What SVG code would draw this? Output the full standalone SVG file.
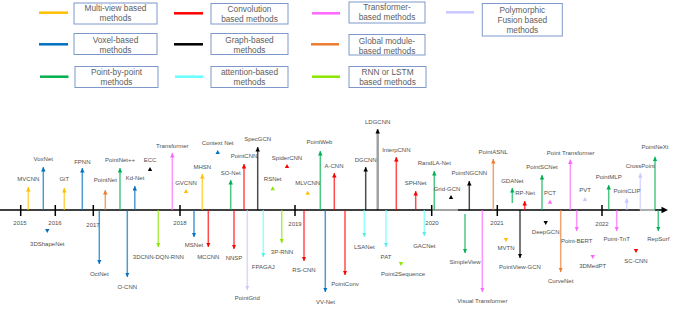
<svg xmlns="http://www.w3.org/2000/svg" width="685" height="309" viewBox="0 0 685 309">
<style>
text{font-family:"Liberation Sans",Arial,sans-serif}
.l{font-size:6px;fill:#4f4f4f;text-anchor:middle}
.lg{font-size:8.3px;fill:#606060;text-anchor:middle}
.box{fill:#fff;stroke:#7F98CB;stroke-width:1}
.sw{stroke-width:2.5;fill:none}
.st{stroke-width:1.5;stroke-opacity:.7;fill:none}
.mv{stroke:#FFC000}.vx{stroke:#0070C0}.pp{stroke:#00B050}.cv{stroke:#FF0000}.gr{stroke:#000}.at{stroke:#66FFFF}.tf{stroke:#FF66FF}.gm{stroke:#ED7D31}.rn{stroke:#8CE600}.pf{stroke:#C9C9FF}
.fmv{fill:#FFC000}.fvx{fill:#0070C0}.fpp{fill:#00B050}.fcv{fill:#FF0000}.fgr{fill:#000}.fat{fill:#66FFFF}.ftf{fill:#FF66FF}.fgm{fill:#ED7D31}.frn{fill:#8CE600}.fpf{fill:#C9C9FF}
.tk{stroke:#000;stroke-width:1.5}
</style>
<defs>
<marker id="a-mv" viewBox="0 0 10 10" refX="10" refY="5" markerWidth="4.5" markerHeight="4.5" markerUnits="userSpaceOnUse" orient="auto"><path d="M0,0L10,5L0,10z" fill="#FFC000"/></marker>
<marker id="a-vx" viewBox="0 0 10 10" refX="10" refY="5" markerWidth="4.5" markerHeight="4.5" markerUnits="userSpaceOnUse" orient="auto"><path d="M0,0L10,5L0,10z" fill="#0070C0"/></marker>
<marker id="a-pp" viewBox="0 0 10 10" refX="10" refY="5" markerWidth="4.5" markerHeight="4.5" markerUnits="userSpaceOnUse" orient="auto"><path d="M0,0L10,5L0,10z" fill="#00B050"/></marker>
<marker id="a-cv" viewBox="0 0 10 10" refX="10" refY="5" markerWidth="4.5" markerHeight="4.5" markerUnits="userSpaceOnUse" orient="auto"><path d="M0,0L10,5L0,10z" fill="#FF0000"/></marker>
<marker id="a-gr" viewBox="0 0 10 10" refX="10" refY="5" markerWidth="4.5" markerHeight="4.5" markerUnits="userSpaceOnUse" orient="auto"><path d="M0,0L10,5L0,10z" fill="#000"/></marker>
<marker id="a-at" viewBox="0 0 10 10" refX="10" refY="5" markerWidth="4.5" markerHeight="4.5" markerUnits="userSpaceOnUse" orient="auto"><path d="M0,0L10,5L0,10z" fill="#55EEEE"/></marker>
<marker id="a-tf" viewBox="0 0 10 10" refX="10" refY="5" markerWidth="4.5" markerHeight="4.5" markerUnits="userSpaceOnUse" orient="auto"><path d="M0,0L10,5L0,10z" fill="#FF66FF"/></marker>
<marker id="a-gm" viewBox="0 0 10 10" refX="10" refY="5" markerWidth="4.5" markerHeight="4.5" markerUnits="userSpaceOnUse" orient="auto"><path d="M0,0L10,5L0,10z" fill="#ED7D31"/></marker>
<marker id="a-rn" viewBox="0 0 10 10" refX="10" refY="5" markerWidth="4.5" markerHeight="4.5" markerUnits="userSpaceOnUse" orient="auto"><path d="M0,0L10,5L0,10z" fill="#8CE600"/></marker>
<marker id="a-pf" viewBox="0 0 10 10" refX="10" refY="5" markerWidth="4.5" markerHeight="4.5" markerUnits="userSpaceOnUse" orient="auto"><path d="M0,0L10,5L0,10z" fill="#C9C9FF"/></marker>
</defs>
<rect width="685" height="309" fill="#fff"/>

<g id="legend">
<g id="lg-mv"><line class="sw mv" x1="39" y1="12.7" x2="68" y2="12.7"/><rect class="box" x="74" y="3" width="83" height="21"/><text class="lg" x="115.5" y="11.3">Multi-view based</text><text class="lg" x="115.5" y="21.3">methods</text></g>
<g id="lg-cv"><line class="sw cv" x1="174" y1="13.3" x2="203" y2="13.3"/><rect class="box" x="211" y="3.5" width="77" height="20.5"/><text class="lg" x="249.5" y="12">Convolution</text><text class="lg" x="249.5" y="22">based methods</text></g>
<g id="lg-tf"><line class="sw tf" x1="312" y1="13.3" x2="340" y2="13.3"/><rect class="box" x="349" y="2" width="76" height="21"/><text class="lg" x="387" y="10.3">Transformer-</text><text class="lg" x="387" y="20.3">based methods</text></g>
<g id="lg-pf"><line class="sw pf" x1="446" y1="12.3" x2="474" y2="12.3"/><rect class="box" x="482.3" y="3.5" width="80" height="32.5"/><text class="lg" x="522.3" y="13">Polymorphic</text><text class="lg" x="522.3" y="23">Fusion based</text><text class="lg" x="522.3" y="33">methods</text></g>
<g id="lg-vx"><line class="sw vx" x1="39" y1="44.3" x2="68" y2="44.3"/><rect class="box" x="74" y="33.5" width="83" height="21"/><text class="lg" x="115.5" y="43">Voxel-based</text><text class="lg" x="115.5" y="53">methods</text></g>
<g id="lg-gr"><line class="sw gr" x1="174" y1="44.3" x2="203" y2="44.3"/><rect class="box" x="211" y="33.5" width="77" height="21"/><text class="lg" x="249.5" y="43">Graph-based</text><text class="lg" x="249.5" y="53">methods</text></g>
<g id="lg-gm"><line class="sw gm" x1="311" y1="44.3" x2="339" y2="44.3"/><rect class="box" x="349" y="34.5" width="76" height="20.5"/><text class="lg" x="387" y="43.7">Global module-</text><text class="lg" x="387" y="53.7">based methods</text></g>
<g id="lg-pp"><line class="sw pp" x1="40" y1="76.7" x2="68.5" y2="76.7"/><rect class="box" x="75" y="66.5" width="83" height="21"/><text class="lg" x="116.5" y="75.3">Point-by-point</text><text class="lg" x="116.5" y="85.3">methods</text></g>
<g id="lg-at"><line class="sw at" x1="175" y1="76.7" x2="203" y2="76.7"/><rect class="box" x="211" y="66.5" width="77" height="21"/><text class="lg" x="249.5" y="75.3">attention-based</text><text class="lg" x="249.5" y="85.3">methods</text></g>
<g id="lg-rn"><line class="sw rn" x1="312" y1="76.7" x2="340" y2="76.7"/><rect class="box" x="349" y="66.5" width="77" height="21"/><text class="lg" x="387.5" y="75.3">RNN or LSTM</text><text class="lg" x="387.5" y="85.3">based methods</text></g>
</g>

<g id="timeline">
<line x1="0" y1="210" x2="432" y2="210" stroke="#000" stroke-width="1.6"/>
<line x1="432" y1="210" x2="458" y2="210" stroke="#444" stroke-width="1"/>
<line x1="458" y1="210" x2="640" y2="210" stroke="#000" stroke-width="1.6"/>
<line x1="640" y1="210" x2="655" y2="210" stroke="#999" stroke-width="1.6"/>
<line x1="655" y1="210" x2="663" y2="210" stroke="#000" stroke-width="1.6"/>
<path d="M668,210l-6.5,-3.2v6.4z" fill="#000"/>
<line class="tk" x1="20.7" y1="205" x2="20.7" y2="216"/>
<line class="tk" x1="55.3" y1="205" x2="55.3" y2="216"/>
<line class="tk" x1="93.3" y1="205" x2="93.3" y2="216"/>
<line class="tk" x1="180" y1="205" x2="180" y2="216"/>
<line class="tk" x1="295" y1="205" x2="295" y2="216"/>
<line class="tk" x1="431.7" y1="205" x2="431.7" y2="216"/>
<line class="tk" x1="497.3" y1="205" x2="497.3" y2="216"/>
<line class="tk" x1="602" y1="205" x2="602" y2="216"/>
<text class="l" x="20" y="225">2015</text>
<text class="l" x="55" y="225">2016</text>
<text class="l" x="93" y="227">2017</text>
<text class="l" x="180" y="225">2018</text>
<text class="l" x="295" y="226">2019</text>
<text class="l" x="432" y="225">2020</text>
<text class="l" x="497" y="225">2021</text>
<text class="l" x="602" y="226">2022</text>
</g>

<g id="connectors">
<line class="st mv" x1="28.3" y1="210" x2="28.3" y2="187" marker-end="url(#a-mv)"/>
<line class="st vx" x1="43.3" y1="210" x2="43.3" y2="167" marker-end="url(#a-vx)"/>
<line class="st mv" x1="64.3" y1="210" x2="64.3" y2="188" marker-end="url(#a-mv)"/>
<line class="st vx" x1="82.3" y1="210" x2="82.3" y2="168" marker-end="url(#a-vx)"/>
<line class="st gm" x1="105.3" y1="210" x2="105.3" y2="190" marker-end="url(#a-gm)"/>
<line class="st pp" x1="120" y1="210" x2="120" y2="168" marker-end="url(#a-pp)"/>
<line class="st vx" x1="134.8" y1="210" x2="134.8" y2="186" marker-end="url(#a-vx)"/>
<line class="st tf" x1="172.3" y1="210" x2="172.3" y2="153" marker-end="url(#a-tf)"/>
<line class="st mv" x1="202.3" y1="210" x2="202.3" y2="174" marker-end="url(#a-mv)"/>
<line class="st pp" x1="230.7" y1="210" x2="230.7" y2="180" marker-end="url(#a-pp)"/>
<line class="st cv" x1="244" y1="210" x2="244" y2="164" marker-end="url(#a-cv)"/>
<line class="st gr" x1="257.7" y1="210" x2="257.7" y2="147" marker-end="url(#a-gr)"/>
<line class="st pp" x1="320.3" y1="210" x2="320.3" y2="151" marker-end="url(#a-pp)"/>
<line class="st cv" x1="334.3" y1="210" x2="334.3" y2="173" marker-end="url(#a-cv)"/>
<line class="st gr" x1="365.7" y1="210" x2="365.7" y2="167" marker-end="url(#a-gr)"/>
<line class="gr" x1="377.7" y1="210" x2="377.7" y2="129" stroke-width="2.4" stroke-opacity=".38" marker-end="url(#a-gr)"/>
<line class="st cv" x1="396.3" y1="210" x2="396.3" y2="157" marker-end="url(#a-cv)"/>
<line class="st cv" x1="415.7" y1="210" x2="415.7" y2="191" marker-end="url(#a-cv)"/>
<line class="st pp" x1="434.3" y1="210" x2="434.3" y2="171" marker-end="url(#a-pp)"/>
<line class="st gr" x1="469.3" y1="210" x2="469.3" y2="181" marker-end="url(#a-gr)"/>
<line class="st gm" x1="493.3" y1="210" x2="493.3" y2="159" marker-end="url(#a-gm)"/>
<line class="st pp" x1="512.3" y1="203" x2="512.3" y2="188" marker-end="url(#a-pp)"/>
<line class="st cv" x1="524.7" y1="210" x2="524.7" y2="201" marker-end="url(#a-cv)"/>
<line class="st pp" x1="542" y1="210" x2="542" y2="175" marker-end="url(#a-pp)"/>
<line class="st tf" x1="570.3" y1="210" x2="570.3" y2="159.5" marker-end="url(#a-tf)"/>
<line class="st pp" x1="608.7" y1="210" x2="608.7" y2="185" marker-end="url(#a-pp)"/>
<line class="st pf" x1="626.7" y1="210" x2="626.7" y2="198.3" marker-end="url(#a-pf)"/>
<line class="st pf" x1="640.3" y1="210" x2="640.3" y2="173.3" marker-end="url(#a-pf)"/>
<line class="st pp" x1="655" y1="210" x2="655" y2="156.7" marker-end="url(#a-pp)"/>

<line class="st vx" x1="99.3" y1="210" x2="99.3" y2="264" marker-end="url(#a-vx)"/>
<line class="st vx" x1="127.3" y1="210" x2="127.3" y2="277" marker-end="url(#a-vx)"/>
<line class="st rn" x1="158.3" y1="210" x2="158.3" y2="247" marker-end="url(#a-rn)"/>
<line class="st vx" x1="194" y1="210" x2="194" y2="237" marker-end="url(#a-vx)"/>
<line class="st cv" x1="208.3" y1="210" x2="208.3" y2="247" marker-end="url(#a-cv)"/>
<line class="st cv" x1="234" y1="210" x2="234" y2="249" marker-end="url(#a-cv)"/>
<line class="st pf" x1="247.3" y1="210" x2="247.3" y2="290" marker-end="url(#a-pf)"/>
<line class="st at" x1="263.3" y1="210" x2="263.3" y2="257" marker-end="url(#a-at)"/>
<line class="st rn" x1="281.7" y1="210" x2="281.7" y2="243" marker-end="url(#a-rn)"/>
<line class="st cv" x1="304" y1="210" x2="304" y2="261" marker-end="url(#a-cv)"/>
<line class="st vx" x1="325.3" y1="210" x2="325.3" y2="292" marker-end="url(#a-vx)"/>
<line class="st cv" x1="345" y1="210" x2="345" y2="275" marker-end="url(#a-cv)"/>
<line class="st at" x1="364.3" y1="210" x2="364.3" y2="237" marker-end="url(#a-at)"/>
<line class="st at" x1="386" y1="210" x2="386" y2="247" marker-end="url(#a-at)"/>
<line class="st at" x1="424.3" y1="210" x2="424.3" y2="236" marker-end="url(#a-at)"/>
<line class="st pp" x1="465" y1="214" x2="465" y2="253" marker-end="url(#a-pp)"/>
<line class="st tf" x1="482.3" y1="210" x2="482.3" y2="292" marker-end="url(#a-tf)"/>
<line class="st gr" x1="520" y1="210" x2="520" y2="258" marker-end="url(#a-gr)"/>
<line class="st gm" x1="560.7" y1="210" x2="560.7" y2="272" marker-end="url(#a-gm)"/>
<line class="st tf" x1="576.7" y1="210" x2="576.7" y2="231" marker-end="url(#a-tf)"/>
<line class="st tf" x1="616.7" y1="210" x2="616.7" y2="231" marker-end="url(#a-tf)"/>
<line class="st pp" x1="658.3" y1="210" x2="658.3" y2="231" marker-end="url(#a-pp)"/>
</g>

<g id="n-mvcnn"><text class="l" x="28.3" y="181">MVCNN</text></g>
<g id="n-voxnet"><text class="l" x="43.3" y="161">VoxNet</text></g>
<g id="n-git"><text class="l" x="64.3" y="181">GiT</text></g>
<g id="n-fpnn"><text class="l" x="82.3" y="164">FPNN</text></g>
<g id="n-pointnet"><text class="l" x="105.3" y="182">PointNet</text></g>
<g id="n-pointnetpp"><text class="l" x="120" y="162">PointNet++</text></g>
<g id="n-kdnet"><text class="l" x="135" y="180">Kd-Net</text></g>
<g id="n-ecc"><path class="fgr" d="M150,167l2.2,4h-4.4z"/><text class="l" x="150" y="162">ECC</text></g>
<g id="n-transformer"><text class="l" x="172.3" y="148">Transformer</text></g>
<g id="n-gvcnn"><path class="fmv" d="M186,189l2.2,4h-4.4z"/><text class="l" x="186" y="185">GVCNN</text></g>
<g id="n-mhsn"><text class="l" x="202.3" y="168.7">MHSN</text></g>
<g id="n-contextnet"><path class="fvx" d="M217.7,150l2.2,4h-4.4z"/><text class="l" x="217.7" y="145">Context Net</text></g>
<g id="n-sonet"><text class="l" x="230.7" y="175.3">SO-Net</text></g>
<g id="n-pointcnn"><text class="l" x="244" y="158">PointCNN</text></g>
<g id="n-specgcn"><text class="l" x="257.7" y="141">SpecGCN</text></g>
<g id="n-rsnet"><path class="frn" d="M272.7,186.3l2.2,4h-4.4z"/><text class="l" x="272.7" y="181.3">RSNet</text></g>
<g id="n-spidercnn"><path class="fcv" d="M287,164l2.2,4h-4.4z"/><text class="l" x="287" y="160">SpiderCNN</text></g>
<g id="n-mlvcnn"><path class="fmv" d="M307.7,190.7l2.2,4h-4.4z"/><text class="l" x="307.7" y="184.7">MLVCNN</text></g>
<g id="n-pointweb"><text class="l" x="319.5" y="144">PointWeb</text></g>
<g id="n-acnn"><text class="l" x="334" y="168">A-CNN</text></g>
<g id="n-dgcnn"><text class="l" x="365.7" y="162">DGCNN</text></g>
<g id="n-ldgcnn"><text class="l" x="377.7" y="124">LDGCNN</text></g>
<g id="n-interpcnn"><text class="l" x="396.3" y="152">InterpCNN</text></g>
<g id="n-sphnet"><text class="l" x="415.7" y="185">SPHNet</text></g>
<g id="n-randlanet"><text class="l" x="434.3" y="165">RandLA-Net</text></g>
<g id="n-gridgcn"><path class="fgr" d="M451,195l2.2,4h-4.4z"/><text class="l" x="447" y="191">Grid-GCN</text></g>
<g id="n-pointngcnn"><text class="l" x="469.3" y="175">PointNGCNN</text></g>
<g id="n-pointasnl"><text class="l" x="493.3" y="154">PointASNL</text></g>
<g id="n-gdanet"><text class="l" x="512.3" y="183">GDANet</text></g>
<g id="n-rpnet"><text class="l" x="525" y="195.3">RP-Net</text></g>
<g id="n-pointscnet"><text class="l" x="542" y="169">PointSCNet</text></g>
<g id="n-pct"><path class="ftf" d="M550,199.7l2.2,4h-4.4z"/><text class="l" x="550" y="195.3">PCT</text></g>
<g id="n-pointtransformer"><text class="l" x="570.7" y="155.3">Point Transformer</text></g>
<g id="n-pvt"><path class="fpf" d="M585,197l2.2,4h-4.4z"/><text class="l" x="585" y="192">PVT</text></g>
<g id="n-pointmlp"><text class="l" x="608.7" y="178.7">PointMLP</text></g>
<g id="n-pointclip"><text class="l" x="627" y="193">PointCLIP</text></g>
<g id="n-crosspoint"><text class="l" x="640.3" y="168">CrossPoint</text></g>
<g id="n-pointnext"><text class="l" x="655" y="149.3">PointNeXt</text></g>

<g id="n-3dshapenet"><path class="fvx" d="M47.3,233l2.2,-4h-4.4z"/><text class="l" x="47.3" y="246">3DShapeNet</text></g>
<g id="n-octnet"><text class="l" x="99.3" y="276">OctNet</text></g>
<g id="n-ocnn"><text class="l" x="127.3" y="289">O-CNN</text></g>
<g id="n-3dcnndqnrnn"><text class="l" x="158.3" y="259">3DCNN-DQN-RNN</text></g>
<g id="n-msnet"><text class="l" x="194" y="247">MSNet</text></g>
<g id="n-mccnn"><text class="l" x="208.3" y="259">MCCNN</text></g>
<g id="n-nnsp"><text class="l" x="234" y="260">NNSP</text></g>
<g id="n-pointgrid"><text class="l" x="247.3" y="300">PointGrid</text></g>
<g id="n-fpagaj"><text class="l" x="263.3" y="269">FPAGAJ</text></g>
<g id="n-3prnn"><text class="l" x="282" y="254">3P-RNN</text></g>
<g id="n-rscnn"><text class="l" x="304" y="272">RS-CNN</text></g>
<g id="n-vvnet"><text class="l" x="325.5" y="304">VV-Net</text></g>
<g id="n-pointconv"><text class="l" x="345" y="286">PointConv</text></g>
<g id="n-lsanet"><text class="l" x="364.3" y="249">LSANet</text></g>
<g id="n-pat"><text class="l" x="386" y="259">PAT</text></g>
<g id="n-point2sequence"><path class="frn" d="M401,266l2.2,-4h-4.4z"/><text class="l" x="403" y="276">Point2Sequence</text></g>
<g id="n-gacnet"><text class="l" x="424.3" y="248">GACNet</text></g>
<g id="n-simpleview"><text class="l" x="465" y="264">SimpleView</text></g>
<g id="n-visualtransformer"><text class="l" x="482.3" y="303">Visual Transformer</text></g>
<g id="n-mvtn"><path class="fmv" d="M506,242l2.2,-4h-4.4z"/><text class="l" x="506" y="250">MVTN</text></g>
<g id="n-pointviewgcn"><text class="l" x="520" y="269">PointView-GCN</text></g>
<g id="n-deepgcn"><path class="fgr" d="M545.7,225l2.2,-4h-4.4z"/><text class="l" x="545.7" y="234">DeepGCN</text></g>
<g id="n-curvenet"><text class="l" x="560.7" y="283">CurveNet</text></g>
<g id="n-pointbert"><text class="l" x="576.7" y="243">Point-BERT</text></g>
<g id="n-3dmedpt"><path class="ftf" d="M592.7,259l2.2,-4h-4.4z"/><text class="l" x="592.7" y="268">3DMedPT</text></g>
<g id="n-pointtnt"><text class="l" x="616.7" y="241.3">Point-TnT</text></g>
<g id="n-sccnn"><path class="fcv" d="M636,253l2.2,-4h-4.4z"/><text class="l" x="636" y="262.7">SC-CNN</text></g>
<g id="n-repsurf"><text class="l" x="658.3" y="241.3">RepSurf</text></g>
</svg>
